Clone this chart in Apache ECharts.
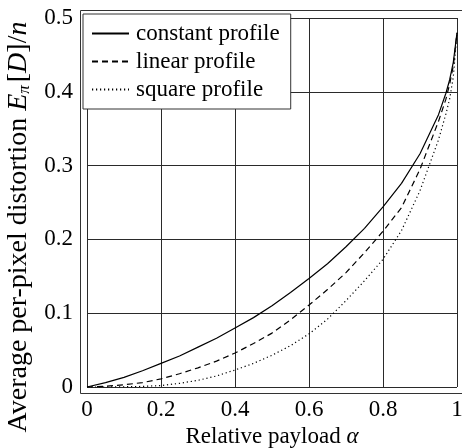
<!DOCTYPE html>
<html>
<head>
<meta charset="utf-8">
<script src="https://cdn.jsdelivr.net/npm/echarts@6/dist/echarts.min.js"></script>
<style>
  html, body { margin: 0; padding: 0; background: #fff; }
  #chart { width: 462px; height: 448px; }
</style>
</head>
<body>
<div id="chart"></div>
<script>
// Relative payload values shared by all three curves
var payload = [0, 0.05, 0.1, 0.15, 0.2, 0.25, 0.3, 0.35, 0.4, 0.45, 0.5, 0.55, 0.6,
               0.65, 0.7, 0.75, 0.8, 0.85, 0.9, 0.95, 0.97, 0.98, 0.99, 1];

// Average per-pixel distortion for each cost profile
var constantProfile = [0, 0.006, 0.013, 0.022, 0.032, 0.042, 0.054, 0.066, 0.080, 0.094,
                       0.110, 0.128, 0.147, 0.167, 0.190, 0.215, 0.244, 0.276, 0.316,
                       0.369, 0.398, 0.416, 0.440, 0.480];
var linearProfile = [0, 0.001, 0.003, 0.006, 0.011, 0.018, 0.026, 0.035, 0.046, 0.059,
                     0.073, 0.091, 0.111, 0.132, 0.155, 0.182, 0.211, 0.243, 0.295,
                     0.360, 0.390, 0.410, 0.435, 0.480];
var squareProfile = [0, 0, 0.0003, 0.0008, 0.002, 0.005, 0.009, 0.015, 0.023, 0.032,
                     0.043, 0.056, 0.072, 0.092, 0.117, 0.144, 0.173, 0.212, 0.266,
                     0.335, 0.370, 0.390, 0.420, 0.480];

var seriesNames = ['constant profile', 'linear profile', 'square profile'];
var xTicks = { min: 0, max: 1, step: 0.2 };
var yTicks = { min: 0, max: 0.5, step: 0.1 };

function pairs(xs, ys) {
  return xs.map(function (x, i) { return [x, ys[i]]; });
}

var FONT = 'Liberation Serif';
var SIZE = 23;
var chart = echarts.init(document.getElementById('chart'), null, { renderer: 'canvas' });

function fmt(v) {
  if (v === 0) return '0';
  if (v === 1) return '1';
  return String(Math.round(v * 10) / 10);
}

chart.setOption({
  animation: false,
  backgroundColor: '#fff',
  grid: { left: 87, right: 5, top: 18, bottom: 61, containLabel: false, outerBoundsMode: 'none' },
  xAxis: {
    type: 'value',
    min: xTicks.min, max: xTicks.max, interval: xTicks.step,
    axisLine: { show: false },
    axisTick: { show: false },
    splitLine: { show: true, lineStyle: { color: '#2a2a2a', width: 1 } },
    axisLabel: { margin: 11, fontFamily: FONT, fontSize: SIZE, color: '#000', formatter: fmt },
    name: 'Relative payload {i|α}',
    nameLocation: 'middle',
    nameGap: 36,
    nameTextStyle: {
      fontFamily: FONT, fontSize: SIZE, color: '#000',
      rich: { i: { fontFamily: FONT, fontSize: SIZE, fontStyle: 'italic', color: '#000' } }
    }
  },
  yAxis: {
    type: 'value',
    min: yTicks.min, max: yTicks.max, interval: yTicks.step,
    axisLine: { show: false },
    axisTick: { show: false },
    splitLine: { show: true, lineStyle: { color: '#2a2a2a', width: 1 } },
    axisLabel: { margin: 14, fontFamily: FONT, fontSize: SIZE, color: '#000', formatter: fmt }
  },
  legend: {
    orient: 'vertical',
    left: 83, top: 14,
    padding: [8, 11, 8, 8],
    itemWidth: 37, itemHeight: 22, itemGap: 5,
    borderColor: '#333', borderWidth: 1,
    backgroundColor: '#fff',
    selectedMode: false,
    itemStyle: { color: 'rgba(0,0,0,0)', borderColor: 'rgba(0,0,0,0)', borderWidth: 0 },
    textStyle: { fontFamily: FONT, fontSize: SIZE, color: '#000', padding: [0, 0, 0, 2] },
    data: seriesNames
  },
  graphic: [
    {
      type: 'rect', z: 100, silent: true,
      shape: { x: 80.5, y: 10.5, width: 382, height: 383 },
      style: { fill: null, stroke: '#333', lineWidth: 1 }
    },
    {
      type: 'text', z: 100, silent: true,
      x: 19, y: 227, rotation: Math.PI / 2,
      style: {
        text: 'Average per-pixel distortion {i|E}{s|π}[{i|D}]/{i|n}',
        fontFamily: FONT, fontSize: 28, fill: '#000',
        align: 'center', verticalAlign: 'middle',
        rich: {
          i: { fontFamily: FONT, fontSize: 28, fontStyle: 'italic', fill: '#000' },
          s: { fontFamily: FONT, fontSize: 17, fontStyle: 'italic', fill: '#000', padding: [12, 3, 0, 0] }
        }
      }
    }
  ],
  series: [
    {
      name: seriesNames[0], type: 'line', symbol: 'none',
      data: pairs(payload, constantProfile),
      lineStyle: { color: '#000', width: 1.2, type: 'solid' },
      itemStyle: { color: '#000' }
    },
    {
      name: seriesNames[1], type: 'line', symbol: 'none',
      data: pairs(payload, linearProfile),
      lineStyle: { color: '#000', width: 1.2, type: [6, 4] },
      itemStyle: { color: '#000' }
    },
    {
      name: seriesNames[2], type: 'line', symbol: 'none',
      data: pairs(payload, squareProfile),
      lineStyle: { color: '#000', width: 1.2, type: [1.2, 2.8] },
      itemStyle: { color: '#000' }
    }
  ]
});
</script>
</body>
</html>
